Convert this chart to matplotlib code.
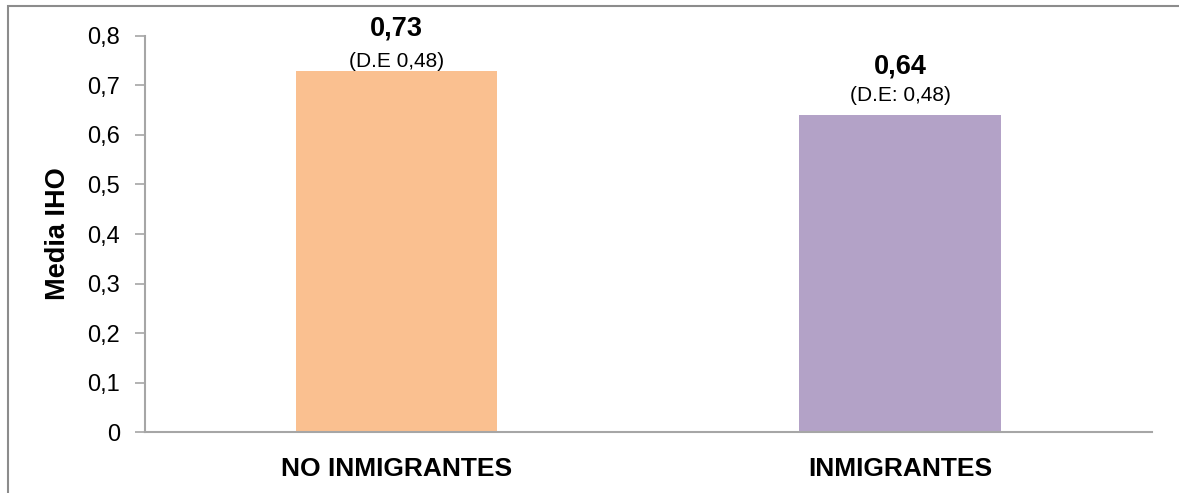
import matplotlib
matplotlib.use('Agg')
from matplotlib import pyplot as plt
from matplotlib.patches import Rectangle
from matplotlib.ticker import FuncFormatter
import numpy as np

categories = ['NO INMIGRANTES', 'INMIGRANTES']
means = [0.73, 0.64]
value_labels = ['0,73', '0,64']
sd_labels = ['(D.E 0,48)', '(D.E: 0,48)']
bar_colors = ['#FAC090', '#B3A2C7']
yticks = [0, 0.1, 0.2, 0.3, 0.4, 0.5, 0.6, 0.7, 0.8]

plt.rcParams['font.family'] = ['Liberation Sans', 'DejaVu Sans']

fig = plt.figure(figsize=(11.79, 4.93), dpi=100)
ax = fig.add_axes([0.123, 0.1237, 0.854, 0.8033])

x = np.arange(len(categories))
bars = ax.bar(x, means, width=0.4, color=bar_colors, zorder=2)

ax.set_xlim(-0.5, 1.5)
ax.set_ylim(0, 0.8)
ax.set_yticks(yticks)
ax.yaxis.set_major_formatter(FuncFormatter(lambda v, p: ('%g' % round(v, 1)).replace('.', ',')))
ax.set_xticks(x)
ax.set_xticklabels(categories, fontsize=19, fontweight='bold')
ax.tick_params(axis='x', length=0, pad=18)
ax.tick_params(axis='y', length=7, width=1.2, color='#a6a6a6', labelsize=17, pad=11)
ax.set_ylabel('Media IHO', fontsize=19.5, fontweight='bold')
ax.yaxis.set_label_coords(-0.0735, 0.5)

for s in ['top', 'right']:
    ax.spines[s].set_visible(False)
for s in ['left', 'bottom']:
    ax.spines[s].set_color('#a6a6a6')
    ax.spines[s].set_linewidth(1.5)

# labels over the bars (placed by hand in the original)
sd_offsets = [6.5, 14.5]
val_offsets = [30, 35]
for i, b in enumerate(bars):
    cx = b.get_x() + b.get_width() / 2
    ax.annotate(sd_labels[i], (cx, b.get_height()), xytext=(0, sd_offsets[i]),
                textcoords='offset points', ha='center', va='center', fontsize=15)
    ax.annotate(value_labels[i], (cx, b.get_height()), xytext=(0, val_offsets[i]),
                textcoords='offset points', ha='center', va='center', fontsize=19.5,
                fontweight='bold')

# outer frame, only left and top edges are visible in the crop
frame = Rectangle((8 / 1179, -0.2), 1.5, 1.2 - 6 / 493, transform=fig.transFigure,
                  fill=False, edgecolor='#8c8c8c', linewidth=1.5, clip_on=False)
fig.patches.append(frame)

fig.savefig('out.png', dpi=100)
